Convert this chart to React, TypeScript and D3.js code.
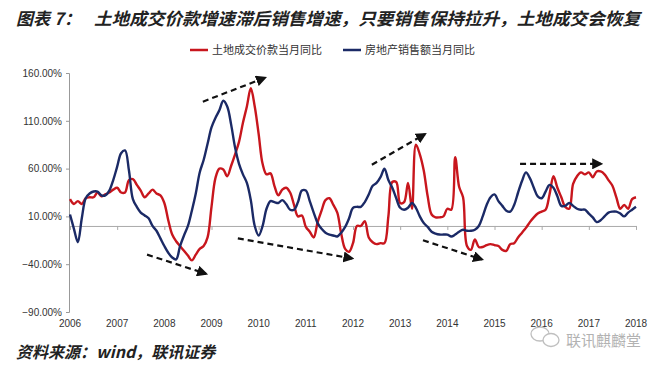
import { useEffect, useRef } from 'react';
import * as d3 from 'd3';

// monthly, Jan 2006 .. Jan 2018
const yearLabels = ['2006', '2007', '2008', '2009', '2010', '2011', '2012', '2013', '2014', '2015', '2016', '2017', '2018'];
const yTicks = [-90, -40, 10, 60, 110, 160];

const landValues = [
  28, 23, 26, 23, 29, 30, 30, 35, 31, 33, 35, 38,
  40, 35, 35, 48, 49, 43, 37, 30, 34, 38, 34, 32,
  24, 6, -9, -16, -21, -26, -31, -36, -30, -24, -21, -12,
  20, 50, 60, 59, 52, 63, 75, 88, 108, 125, 144, 125,
  96, 65, 54, 55, 42, 32, 38, 40, 35, 22, 10, 11,
  -1, -6, -12, 4, 16, 27, 29, 22, 14, -8, -24, -27,
  -18, 0, 0, 5, -12, -17, -19, -18, -18, 10, 46, 46,
  24, 25, 45, 18, 85, 75, 58, 31, 12, 9, 9, 10,
  18, 17, 72, 41, 30, -21, -25, -14, -22, -22, -20, -19,
  -20, -21, -25, -26, -19, -18, -12, -7, -2, 4, 9, 13,
  15, 17, 33, 52, 40, 30, 20, 18, 44, 52, 56, 54,
  56, 51, 57, 57, 54, 48, 42, 30, 18, 22, 18, 28,
  30,
];

const salesValues = [
  12, -3, -17, 8, 29, 34, 36, 36, 32, 32, 37, 48,
  62, 76, 79, 58, 28, 20, 14, 11, 8, 0, -5, -13,
  -21, -28, -33, -35, -21, -10, 0, 16, 34, 56, 69, 86,
  103, 113, 121, 131, 125, 106, 82, 65, 54, 45, 27, 0,
  -10, 0, 18, 26, 25, 24, 27, 23, 17, 17, 25, 37,
  37, 26, 14, 3, -3, -7, -9, -10, -11, -7, -1, 8,
  19, 20, 20, 25, 33, 42, 45, 51, 60, 48, 40, 29,
  19, 17, 19, 24, 19, 10, 3, -1, -6, -8, -9, -9,
  -9, -11, -9, -6, -4, -5, -5, -4, 0, 10, 22, 30,
  33, 26, 21, 16, 15, 22, 35, 47, 56, 50, 40, 31,
  29, 36, 43, 40, 31, 21, 21, 24, 21, 18, 17, 17,
  13, 9, 4, 6, 10, 14, 15, 15, 13, 10, 14, 17,
  20,
];

// dashed trend arrows: [month from, value from, month to, value to]
const arrows = [
  [19.6, -30, 34.6, -50],
  [33.8, 130, 49.6, 155],
  [42.7, -13, 71.8, -34],
  [76.8, 64, 90.3, 96],
  [89.8, -15, 104.8, -35],
  [114.5, 65, 135.1, 65],
];

const landName = '土地成交价款当月同比';
const salesName = '房地产销售额当月同比';
const red = '#c8161d';
const navy = '#1b2a66';
const cjk = '"Noto Sans CJK SC", sans-serif';

const App = () => {
  const svgRef = useRef(null);
  const width = 656;
  const height = 372;

  useEffect(() => {
    const svg = d3.select(svgRef.current);
    svg.selectAll('*').remove();

    const x = d3.scaleLinear().domain([0, 144]).range([70, 636]);
    const y = d3.scaleLinear().domain([-90, 160]).range([312, 73]);

    svg.append('defs').append('marker')
      .attr('id', 'head')
      .attr('viewBox', '0 0 10 10')
      .attr('refX', 8).attr('refY', 5)
      .attr('markerWidth', 5).attr('markerHeight', 5)
      .attr('orient', 'auto')
      .append('path').attr('d', 'M0,0 L10,5 L0,10 z').attr('fill', '#111');

    // title
    svg.append('text')
      .attr('x', 16).attr('y', 25)
      .style('font-family', cjk).style('font-size', '17px')
      .style('font-style', 'italic').style('font-weight', 'bold')
      .attr('fill', '#222')
      .text('图表 7：')
    svg.append('text')
      .attr('x', 94).attr('y', 25)
      .attr('textLength', 546).attr('lengthAdjust', 'spacingAndGlyphs')
      .style('font-family', cjk).style('font-size', '17px')
      .style('font-style', 'italic').style('font-weight', 'bold')
      .attr('fill', '#222')
      .text('土地成交价款增速滞后销售增速，只要销售保持拉升，土地成交会恢复')

    // legend
    const legend = [[landName, red, 190], [salesName, navy, 343]];
    legend.forEach(([name, color, lx]) => {
      svg.append('line')
        .attr('x1', lx).attr('x2', lx + 18).attr('y1', 50).attr('y2', 50)
        .attr('stroke', color).attr('stroke-width', 2.5)
      svg.append('text')
        .attr('x', lx + 22).attr('y', 54)
        .style('font-family', cjk).style('font-size', '11px')
        .attr('fill', '#333')
        .text(name)
    })

    // y axis
    const yAxis = svg.append('g')
      .attr('transform', 'translate(69,0)')
      .call(d3.axisLeft(y).tickValues(yTicks).tickSize(3).tickFormat(d => d3.format('.2f')(d) + '%'))
    yAxis.select('.domain').attr('stroke', '#999')
    yAxis.selectAll('.tick line').attr('stroke', '#999')
    yAxis.selectAll('.tick text')
      .attr('x', -7)
      .style('font-family', '"Liberation Sans", sans-serif').style('font-size', '10px')
      .attr('fill', '#333')

    // x axis at zero, labels at bottom
    const xAxis = svg.append('g')
      .attr('transform', `translate(0,${y(0)})`)
      .call(d3.axisBottom(x).tickValues(d3.range(0, 145, 12)).tickSize(4).tickSizeOuter(0).tickFormat(() => ''))
    xAxis.select('.domain').attr('stroke', '#aaa')
    xAxis.selectAll('.tick line').attr('stroke', '#aaa')

    svg.append('g').selectAll('text')
      .data(yearLabels)
      .join('text')
      .attr('x', (d, i) => x(i * 12))
      .attr('y', 327)
      .attr('text-anchor', 'middle')
      .style('font-family', '"Liberation Sans", sans-serif').style('font-size', '10px')
      .attr('fill', '#333')
      .text(d => d)

    const line = d3.line()
      .x((d, i) => x(i))
      .y(d => y(d))
      .curve(d3.curveCatmullRom.alpha(0.5))

    svg.append('path')
      .attr('d', line(landValues))
      .attr('fill', 'none').attr('stroke', red).attr('stroke-width', 2.4)
    svg.append('path')
      .attr('d', line(salesValues))
      .attr('fill', 'none').attr('stroke', navy).attr('stroke-width', 2.4)

    svg.append('g').selectAll('line')
      .data(arrows)
      .join('line')
      .attr('x1', d => x(d[0])).attr('y1', d => y(d[1]))
      .attr('x2', d => x(d[2])).attr('y2', d => y(d[3]))
      .attr('stroke', '#111').attr('stroke-width', 2.2)
      .attr('stroke-dasharray', '6,4')
      .attr('marker-end', 'url(#head)')

    // watermark
    const wm = svg.append('g').attr('opacity', 0.75)
    wm.append('ellipse').attr('cx', 540).attr('cy', 334).attr('rx', 9).attr('ry', 7)
      .attr('fill', '#fff').attr('stroke', '#aaa').attr('stroke-width', 1.3)
    wm.append('ellipse').attr('cx', 551).attr('cy', 340).attr('rx', 8).attr('ry', 6.5)
      .attr('fill', '#fff').attr('stroke', '#aaa').attr('stroke-width', 1.3)
    wm.append('text')
      .attr('x', 566).attr('y', 346)
      .style('font-family', cjk).style('font-size', '15px')
      .attr('fill', '#999')
      .text('联讯麒麟堂')

    // source
    svg.append('text')
      .attr('x', 16).attr('y', 358)
      .style('font-family', cjk).style('font-size', '16px')
      .style('font-style', 'italic').style('font-weight', 'bold')
      .attr('fill', '#222')
      .text('资料来源：wind，联讯证券')
  }, [])

  return (
    <div style={{ position: 'absolute', left: 0, top: 0, background: '#fff' }}>
      <svg ref={svgRef} width={width} height={height}></svg>
    </div>
  )
}

export default App;
